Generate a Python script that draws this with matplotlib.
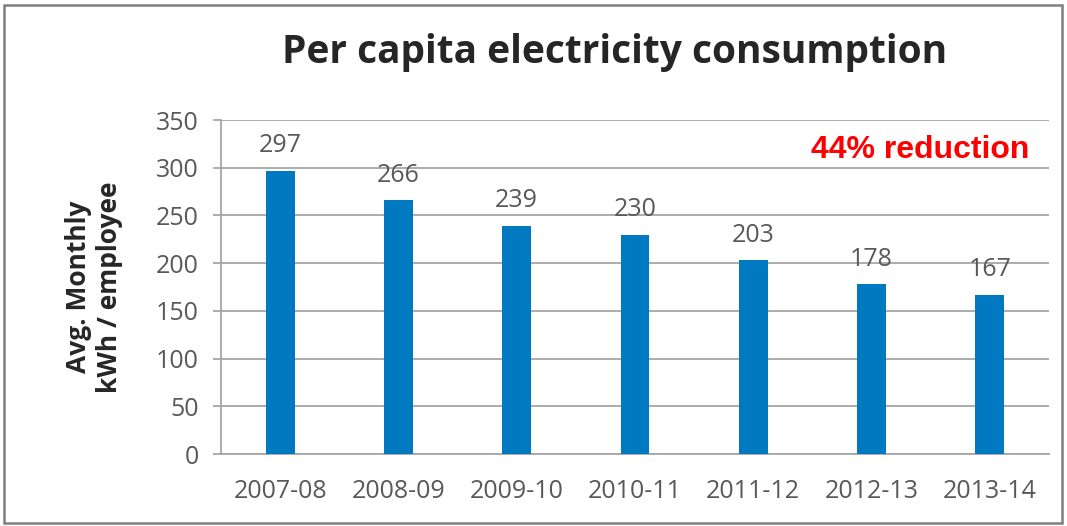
import matplotlib.pyplot as plt
from matplotlib.patches import Rectangle

years = ["2007-08", "2008-09", "2009-10", "2010-11", "2011-12", "2012-13", "2013-14"]
consumption = [297, 266, 239, 230, 203, 178, 167]
y_ticks = [0, 50, 100, 150, 200, 250, 300, 350]

fig = plt.figure(figsize=(10.67, 5.26), dpi=100)
ax = fig.add_axes([221 / 1067, 1 - 454 / 526, 828 / 1067, 334 / 526])

x = range(len(years))
ax.bar(x, consumption, width=0.245, color="#0079C1", zorder=3)

for xi, v in zip(x, consumption):
    ax.annotate(str(v), (xi, v), xytext=(0, 9), textcoords="offset points",
                ha="center", va="bottom", fontsize=18, color="#595959",
                family="Open Sans")

ax.set_xlim(-0.5, len(years) - 0.5)
ax.set_ylim(0, 350)
ax.set_yticks(y_ticks)
ax.set_xticks(list(x))
ax.set_xticklabels(years)
ax.grid(axis="y", color="#A6A6A6", linewidth=1.3, zorder=0)

for s in ["top", "right"]:
    ax.spines[s].set_visible(False)
for s in ["left", "bottom"]:
    ax.spines[s].set_color("#A6A6A6")
    ax.spines[s].set_linewidth(1.3)

ax.tick_params(axis="y", length=6, width=1.3, color="#A6A6A6", pad=10,
               labelsize=18, labelcolor="#595959")
ax.tick_params(axis="x", length=0, pad=18, labelsize=18, labelcolor="#595959")
for lab in ax.get_xticklabels() + ax.get_yticklabels():
    lab.set_family("Open Sans")

ax.set_ylabel("Avg. Monthly\nkWh / employee", fontsize=19, fontweight="bold",
              color="#262626", family="Open Sans", linespacing=1.2)
ax.yaxis.set_label_coords(-0.118, 0.5)

ax.text(0.845, 318.6 / 350, "44% reduction", transform=ax.transAxes,
        ha="center", va="center", fontsize=23, fontweight="bold",
        color="#FF0000", family="Liberation Sans")

fig.text(615 / 1067, 1 - 52 / 526, "Per capita electricity consumption",
         ha="center", va="center", fontsize=28, fontweight="bold",
         color="#262626", family="Open Sans")

fig.patches.append(Rectangle((4 / 1067, 3 / 526), 1058 / 1067, 518 / 526,
                             transform=fig.transFigure, fill=False,
                             edgecolor="#7F7F7F", linewidth=1.8))

fig.savefig("out.png", dpi=100)
